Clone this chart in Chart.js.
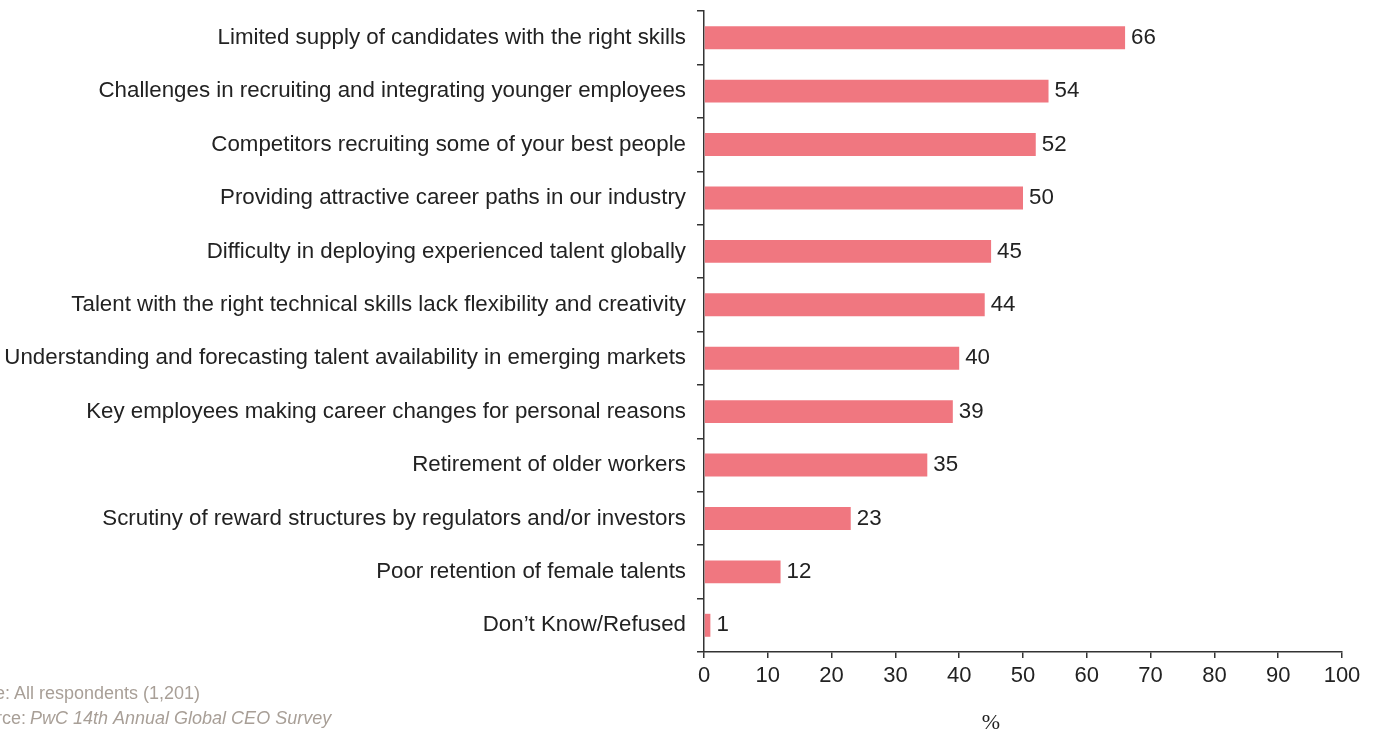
<!DOCTYPE html>
<html>
<head>
<meta charset="utf-8">
<script src="https://cdn.jsdelivr.net/npm/chart.js@4"></script>
<style>
  html, body { margin: 0; padding: 0; background: #fff; }
  #wrap { width: 1374px; height: 734px; position: relative; }
</style>
</head>
<body>
<div id="wrap"><canvas id="c" width="1374" height="734"></canvas></div>
<script>
const categories = [
  "Limited supply of candidates with the right skills",
  "Challenges in recruiting and integrating younger employees",
  "Competitors recruiting some of your best people",
  "Providing attractive career paths in our industry",
  "Difficulty in deploying experienced talent globally",
  "Talent with the right technical skills lack flexibility and creativity",
  "Understanding and forecasting talent availability in emerging markets",
  "Key employees making career changes for personal reasons",
  "Retirement of older workers",
  "Scrutiny of reward structures by regulators and/or investors",
  "Poor retention of female talents",
  "Don\u2019t Know/Refused"
];
const values = [66, 54, 52, 50, 45, 44, 40, 39, 35, 23, 12, 1];
const axisTitle = "%";
const basePrefix = "Base:";
const baseText = "All respondents (1,201)";
const sourcePrefix = "Source:";
const sourceText = "PwC 14th Annual Global CEO Survey";

const FONT = "'Liberation Sans', Arial, Helvetica, sans-serif";

const valueLabels = {
  id: 'valueLabels',
  afterDatasetsDraw(chart) {
    const ctx = chart.ctx;
    const meta = chart.getDatasetMeta(0);
    ctx.save();
    ctx.font = "22.3px " + FONT;
    ctx.fillStyle = "#222";
    ctx.textAlign = "left";
    ctx.textBaseline = "middle";
    meta.data.forEach((bar, i) => {
      ctx.fillText(String(values[i]), bar.x + 6, bar.y);
    });
    ctx.restore();
  }
};

const extraText = {
  id: 'extraText',
  afterDraw(chart) {
    const ctx = chart.ctx;
    ctx.save();
    ctx.fillStyle = "#222";
    ctx.font = "22px 'Liberation Serif', 'DejaVu Serif', serif";
    ctx.textAlign = "center";
    ctx.textBaseline = "middle";
    ctx.fillText(axisTitle, 991, 723);

    ctx.fillStyle = "#a89f97";
    ctx.font = "18px " + FONT;
    ctx.textAlign = "right";
    ctx.fillText(basePrefix, 10, 694);
    ctx.fillText(sourcePrefix, 26, 719);
    ctx.textAlign = "left";
    ctx.fillText(baseText, 14, 694);
    ctx.font = "italic 18px " + FONT;
    ctx.fillText(sourceText, 30, 719);
    ctx.restore();
  }
};

new Chart(document.getElementById('c'), {
  type: 'bar',
  data: {
    labels: categories,
    datasets: [{
      data: values,
      backgroundColor: '#f07780',
      borderWidth: 0,
      barPercentage: 0.43,
      categoryPercentage: 1.0
    }]
  },
  options: {
    indexAxis: 'y',
    responsive: false,
    animation: false,
    devicePixelRatio: 1,
    layout: { padding: { top: 11, right: 32, left: 0, bottom: 0 } },
    plugins: { legend: { display: false }, tooltip: { enabled: false } },
    scales: {
      x: {
        min: 0, max: 100,
        ticks: { stepSize: 10, color: '#222', font: { size: 22, family: FONT }, padding: 5, maxRotation: 0 },
        grid: { drawOnChartArea: false, tickLength: 6, color: '#333', lineWidth: 1.5 },
        border: { color: '#333', width: 1.5 },
        afterFit(scale) { scale.height = 82; scale.paddingLeft = 0; scale.paddingRight = 0; }
      },
      y: {
        ticks: { color: '#222', font: { size: 22.3, family: FONT }, padding: 11, autoSkip: false },
        grid: { offset: true, drawOnChartArea: false, tickLength: 7, color: '#333', lineWidth: 1.5 },
        border: { color: '#333', width: 1.5 },
        afterFit(scale) { scale.width = 704; scale.paddingTop = 0; scale.paddingBottom = 0; }
      }
    }
  },
  plugins: [valueLabels, extraText]
});
</script>
</body>
</html>
